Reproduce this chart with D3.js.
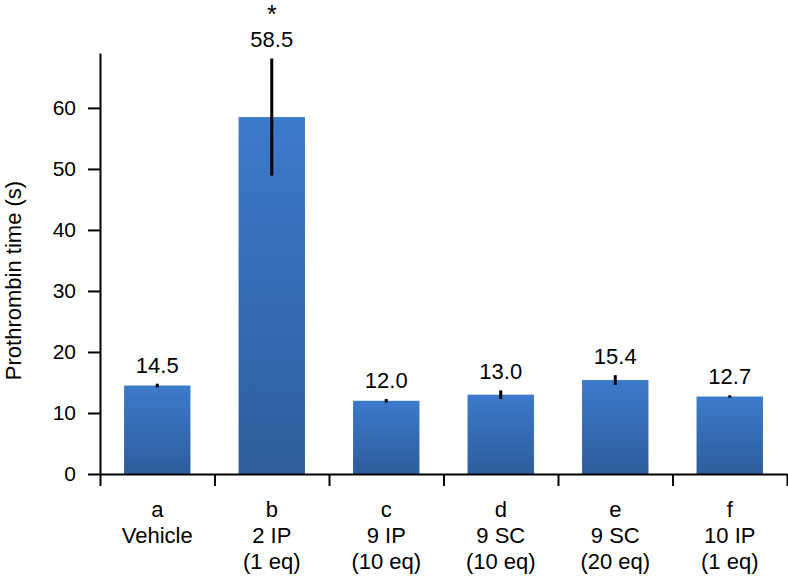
<!DOCTYPE html>
<html>
<head>
<meta charset="utf-8">
<script src="https://cdnjs.cloudflare.com/ajax/libs/d3/7.8.5/d3.min.js"></script>
<style>
  body { margin: 0; background: #fff; }
  text { font-family: "Liberation Sans", Arial, Helvetica, sans-serif; fill: #000; }
</style>
</head>
<body>
<div class="canvas"></div>
<script>
// data
const letters = ['a', 'b', 'c', 'd', 'e', 'f'];
const groups = [['Vehicle'], ['2 IP', '(1 eq)'], ['9 IP', '(10 eq)'], ['9 SC', '(10 eq)'], ['9 SC', '(20 eq)'], ['10 IP', '(1 eq)']];
const means = [14.5, 58.5, 12.0, 13.0, 15.4, 12.7];
const errors = [0.3, 9.6, 0.3, 0.7, 0.8, 0.2];
const marks = ['', '*', '', '', '', ''];
const yTicks = [0, 10, 20, 30, 40, 50, 60];

const dims = {width: 788, height: 577};
const margin = {top: 53, right: 1, bottom: 103, left: 100};

const svg = d3.select('.canvas')
  .append('svg')
  .attr('width', dims.width)
  .attr('height', dims.height);

// bar gradient, light on top and darker at the base
const grad = svg.append('defs').append('linearGradient')
  .attr('id', 'barGrad')
  .attr('x1', 0).attr('y1', 0).attr('x2', 0).attr('y2', 1);
grad.append('stop').attr('offset', '0%').attr('stop-color', '#3c7acb');
grad.append('stop').attr('offset', '100%').attr('stop-color', '#2f5d9d');

const y = d3.scaleLinear()
  .domain([0, 69])
  .range([dims.height - margin.bottom, margin.top]);

const x = d3.scaleBand()
  .domain(letters)
  .range([margin.left, dims.width - margin.right])
  .paddingInner(0.42)
  .paddingOuter(0.21);

// linear scale for the category boundary ticks
const xEdge = d3.scaleLinear()
  .domain([0, letters.length])
  .range([margin.left, dims.width - margin.right]);

const rows = letters.map((l, i) => ({
  letter: l, lines: groups[i], mean: means[i], err: errors[i], mark: marks[i]
}));

// bars
svg.append('g').selectAll('rect')
  .data(rows)
  .enter().append('rect')
  .attr('x', d => x(d.letter))
  .attr('width', x.bandwidth())
  .attr('y', d => y(d.mean))
  .attr('height', d => y(0) - y(d.mean))
  .attr('fill', 'url(#barGrad)');

// error bars
svg.append('g').selectAll('line')
  .data(rows)
  .enter().append('line')
  .attr('x1', d => x(d.letter) + x.bandwidth() / 2)
  .attr('x2', d => x(d.letter) + x.bandwidth() / 2)
  .attr('y1', d => y(d.mean + d.err))
  .attr('y2', d => y(d.mean - d.err))
  .attr('stroke', '#000')
  .attr('stroke-width', 3);

// value labels
svg.append('g').selectAll('text')
  .data(rows)
  .enter().append('text')
  .attr('x', d => x(d.letter) + x.bandwidth() / 2)
  .attr('y', d => y(d.mean + d.err) - 11)
  .attr('text-anchor', 'middle')
  .attr('font-size', 22)
  .text(d => d.mean.toFixed(1));

// significance marks
svg.append('g').selectAll('text')
  .data(rows.filter(d => d.mark))
  .enter().append('text')
  .attr('x', d => x(d.letter) + x.bandwidth() / 2)
  .attr('y', d => y(d.mean + d.err) - 35)
  .attr('text-anchor', 'middle')
  .attr('font-size', 25)
  .text(d => d.mark);

// y axis
const yAxis = svg.append('g')
  .attr('transform', `translate(${margin.left},0)`)
  .call(d3.axisLeft(y).tickValues(yTicks).tickSize(12).tickSizeOuter(0).tickPadding(12));
yAxis.selectAll('path, line').attr('stroke', '#000').attr('stroke-width', 2);
yAxis.selectAll('text').attr('font-size', 21).attr('font-family', null).attr('fill', '#000');

// x axis with boundary ticks
const xAxis = svg.append('g')
  .attr('transform', `translate(0,${y(0)})`)
  .call(d3.axisBottom(xEdge).tickValues(d3.range(letters.length + 1)).tickSize(12).tickSizeOuter(0).tickFormat(''));
xAxis.selectAll('path, line').attr('stroke', '#000').attr('stroke-width', 2);

// category labels
const cat = svg.append('g').selectAll('text')
  .data(rows)
  .enter().append('text')
  .attr('text-anchor', 'middle')
  .attr('font-size', 22);
cat.each(function(d) {
  const t = d3.select(this);
  const cx = x(d.letter) + x.bandwidth() / 2;
  [d.letter, ...d.lines].forEach((s, j) => {
    t.append('tspan').attr('x', cx).attr('y', y(0) + 43 + j * 26).text(s);
  });
});

// y label
svg.append('text')
  .attr('transform', `translate(21,${(y(0) + y(69)) / 2 + 17}) rotate(-90)`)
  .attr('text-anchor', 'middle')
  .attr('font-size', 22)
  .text('Prothrombin time (s)');
</script>
</body>
</html>
